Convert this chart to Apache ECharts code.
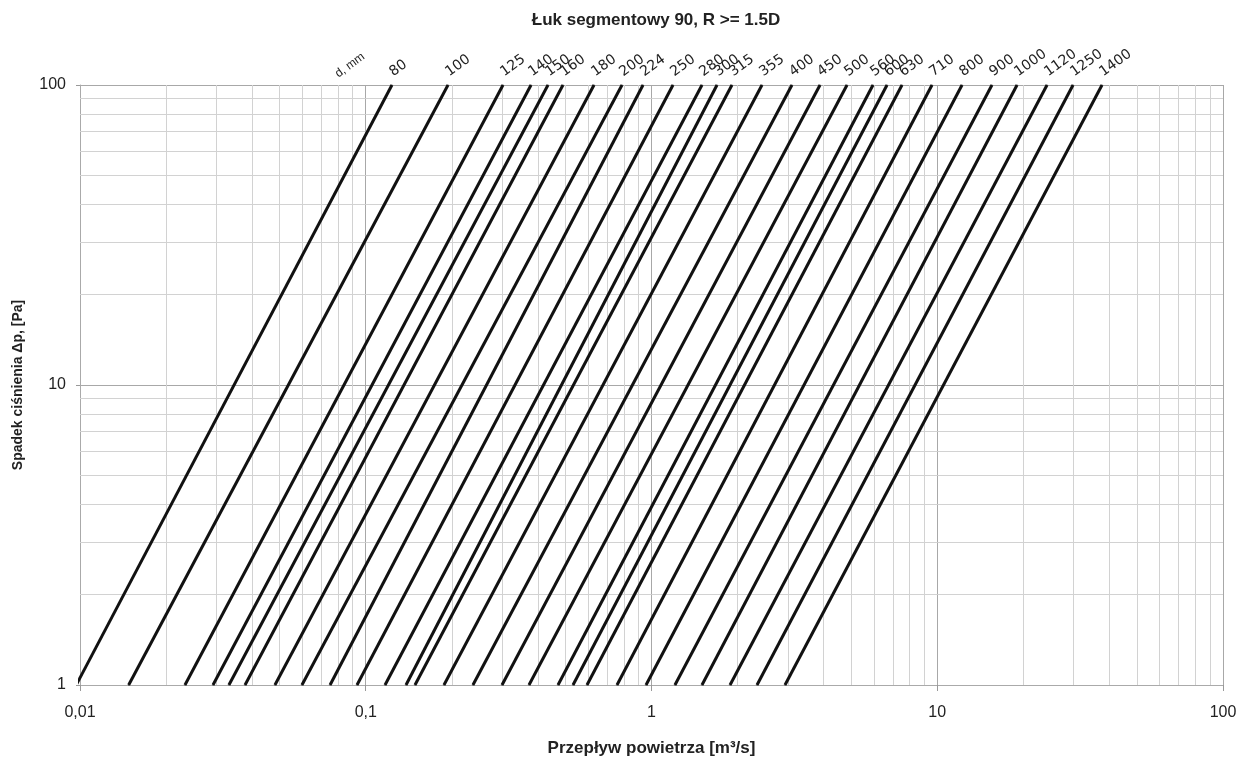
<!DOCTYPE html>
<html>
<head>
<meta charset="utf-8">
<script src="https://cdn.jsdelivr.net/npm/echarts@6/dist/echarts.min.js"></script>
<style>
  html, body { margin: 0; padding: 0; background: #fff; }
  #main { width: 1247px; height: 758px; }
</style>
</head>
<body>
<div id="main"></div>
<script>
// średnice kanałów (mm)
const diameters = ['80', '100', '125', '140', '150', '160', '180', '200', '224', '250', '280', '300', '315',
  '355', '400', '450', '500', '560', '600', '630', '710', '800', '900', '1000', '1120', '1250', '1400'];
// przepływ [m3/s] przy Δp = 1 Pa
const flowAt1Pa = [0.0097, 0.0148, 0.0233, 0.0292, 0.0332, 0.0378, 0.0481, 0.0598, 0.075, 0.0932, 0.1168,
  0.1383, 0.1487, 0.1878, 0.2372, 0.2998, 0.3726, 0.4708, 0.5313, 0.5946, 0.7573, 0.9568, 1.208, 1.502,
  1.883, 2.34, 2.932];
// przepływ [m3/s] przy Δp = 100 Pa
const flowAt100Pa = [0.1235, 0.194, 0.3022, 0.3788, 0.4343, 0.49, 0.6292, 0.7885, 0.9339, 1.189, 1.502,
  1.695, 1.912, 2.436, 3.101, 3.888, 4.833, 5.958, 6.671, 7.528, 9.585, 12.21, 15.54, 19.02, 24.22,
  29.87, 37.72];
const dpEnds = [1, 100];

// pomocnicze linie siatki
const minorX = [0.02, 0.03, 0.04, 0.05, 0.06, 0.07, 0.08, 0.09, 0.2, 0.3, 0.4, 0.5, 0.6, 0.7, 0.8, 0.9,
  2, 3, 4, 5, 6, 7, 8, 9, 20, 30, 40, 50, 60, 70, 80, 90];
const minorY = [2, 3, 4, 5, 6, 7, 8, 9, 20, 30, 40, 50, 60, 70, 80, 90];

const font = 'Liberation Sans, Arial, sans-serif';

const series = diameters.map((d, i) => ({
  name: d,
  type: 'line',
  symbol: 'circle',
  symbolSize: 1,
  showSymbol: true,
  silent: true,
  z: 5,
  itemStyle: { color: '#111' },
  lineStyle: { color: '#111', width: 3 },
  data: [
    [flowAt1Pa[i], dpEnds[0]],
    {
      value: [flowAt100Pa[i], dpEnds[1]],
      label: {
        show: true,
        formatter: d,
        position: 'top',
        distance: 3,
        align: 'left',
        verticalAlign: 'bottom',
        rotate: 36,
        offset: [4, 0],
        fontFamily: 'DejaVu Sans',
        fontSize: 14,
        color: '#222',
      },
    },
  ],
}));

series.unshift({
  name: 'siatka',
  type: 'line',
  data: [],
  silent: true,
  z: 1,
  markLine: {
    silent: true,
    symbol: 'none',
    label: { show: false },
    animation: false,
    lineStyle: { color: '#d2d2d2', width: 1, type: 'solid' },
    data: minorX.map(v => ({ xAxis: v })).concat(minorY.map(v => ({ yAxis: v }))),
  },
});

const option = {
  animation: false,
  backgroundColor: '#fff',
  title: {
    text: 'Łuk segmentowy 90, R >= 1.5D',
    left: 651,
    top: 7,
    textAlign: 'center',
    textStyle: { fontFamily: font, fontSize: 17, fontWeight: 'bold', color: '#222' },
  },
  grid: { left: 80, right: 24, top: 85, bottom: 73, outerBoundsMode: 'none' },
  xAxis: {
    type: 'log',
    logBase: 10,
    min: 0.01,
    max: 100,
    name: 'Przepływ powietrza [m³/s]',
    nameLocation: 'middle',
    nameGap: 55,
    nameTextStyle: { fontFamily: font, fontSize: 17, fontWeight: 'bold', color: '#222' },
    axisLine: { lineStyle: { color: '#aaa' } },
    axisTick: { show: true, length: 6, lineStyle: { color: '#999' } },
    axisLabel: {
      margin: 20,
      fontFamily: font,
      fontSize: 16,
      color: '#222',
      formatter: v => String(v).replace('.', ','),
    },
    splitLine: { show: true, lineStyle: { color: '#a8a8a8', width: 1 } },
  },
  yAxis: {
    type: 'log',
    logBase: 10,
    min: 1,
    max: 100,
    name: 'Spadek ciśnienia Δp, [Pa]',
    nameLocation: 'middle',
    nameGap: 55,
    nameTextStyle: { fontFamily: font, fontSize: 14, fontWeight: 'bold', color: '#222' },
    axisLine: { lineStyle: { color: '#aaa' } },
    axisTick: { show: true, length: 4, lineStyle: { color: '#999' } },
    axisLabel: { margin: 14, fontFamily: font, fontSize: 16, color: '#222' },
    splitLine: { show: true, lineStyle: { color: '#a8a8a8', width: 1 } },
  },
  graphic: [{
    type: 'text',
    x: 340,
    y: 80,
    rotation: 36 * Math.PI / 180,
    style: { text: 'd, mm', fontFamily: font, fontSize: 12, fill: '#222', textVerticalAlign: 'bottom' },
  }],
  series: series,
};

const chart = echarts.init(document.getElementById('main'));
chart.setOption(option);
</script>
</body>
</html>
